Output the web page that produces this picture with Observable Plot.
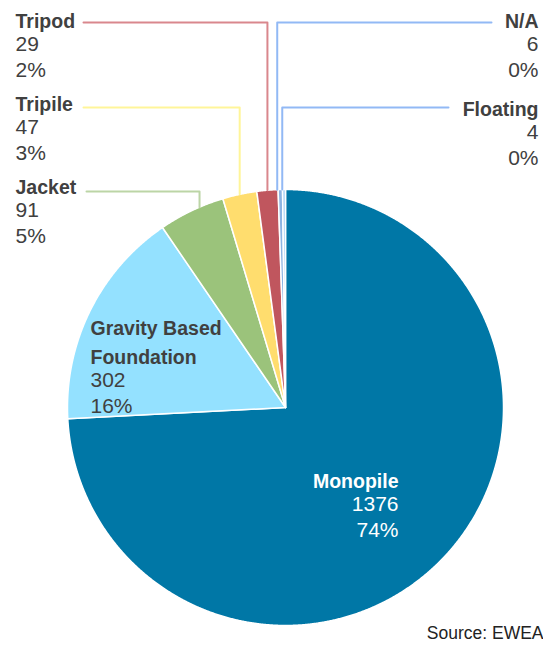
<!DOCTYPE html>
<html>
<head>
<meta charset="utf-8">
<script src="https://cdn.jsdelivr.net/npm/d3@7"></script>
<script src="https://cdn.jsdelivr.net/npm/@observablehq/plot@0.6"></script>
<style>
  html, body { margin: 0; padding: 0; background: #fff; }
  #chart svg { display: block; }
</style>
</head>
<body>
<div id="chart"></div>
<script>
// ---- data ----
const categories = ["Monopile", "Gravity Based Foundation", "Jacket", "Tripile", "Tripod", "N/A", "Floating"];
const counts = [1376, 302, 91, 47, 29, 6, 4];
const percents = ["74%", "16%", "5%", "3%", "2%", "0%", "0%"];
const labelNames = ["Monopile", "Gravity Based\nFoundation", "Jacket", "Tripile", "Tripod", "N/A", "Floating"];
const sourceText = "Source: EWEA";

// ---- styles ----
const sliceColors = ["#0077a6", "#94e1ff", "#9bc37b", "#ffdd6e", "#c0565e", "#8db4e2", "#a9d0f5"];
const leaderColors = [null, null, "#bcd5a6", "#fff599", "#d9878d", "#92b9f5", "#92b9f5"];
const textColor = "#404040";

// ---- layout (units = pixels relative to pie centre, y up) ----
const R = 218;
const labelLayout = [
  {anchor: "end",   x: 113,  y: -80},
  {anchor: "start", x: -195, y: 44},
  {anchor: "start", x: -270, y: 214, lineY: 216, lineX: -199, attach: 0.63},
  {anchor: "start", x: -270, y: 297, lineY: 300, lineX: -202, attach: 0.5},
  {anchor: "start", x: -270, y: 380, lineY: 385, lineX: -202, attach: 0.5},
  {anchor: "end",   x: 253,  y: 380, lineY: 385, lineX: 206, attach: -0.2},
  {anchor: "end",   x: 253,  y: 292, lineY: 300, lineX: 163, attach: -0.1}
];

// ---- build slices ----
const arcs = d3.pie().sort(null).value(d => d)(counts);
const slicePts = [];
arcs.forEach((a, i) => {
  const c = categories[i];
  slicePts.push({c, x: 0, y: 0});
  const n = Math.max(2, Math.ceil((a.endAngle - a.startAngle) / 0.004));
  for (let k = 0; k <= n; k++) {
    const t = a.startAngle + (a.endAngle - a.startAngle) * k / n;
    slicePts.push({c, x: R * Math.sin(t), y: R * Math.cos(t)});
  }
  slicePts.push({c, x: 0, y: 0});
});

// ---- leaders ----
const leaderMarks = [];
arcs.forEach((a, i) => {
  const L = labelLayout[i];
  if (L.lineY === undefined) return;
  const ang = a.startAngle + (a.endAngle - a.startAngle) * L.attach;
  const ex = R * Math.sin(ang), ey = R * Math.cos(ang);
  const pts = [{x: ex, y: ey}, {x: ex, y: L.lineY}, {x: L.lineX, y: L.lineY}];
  leaderMarks.push(Plot.line(pts, {x: "x", y: "y", stroke: leaderColors[i], strokeWidth: 2, curve: "linear"}));
});

// ---- labels ----
const labelMarks = [];
categories.forEach((c, i) => {
  const L = labelLayout[i];
  const d = [{x: L.x, y: L.y, name: labelNames[i], count: String(counts[i]), pct: percents[i]}];
  const fill = i === 0 ? "#ffffff" : textColor;
  labelMarks.push(
    Plot.text(d, {x: "x", y: "y", text: "name", textAnchor: L.anchor, lineAnchor: "bottom",
      fontWeight: "bold", fontSize: 19.5, lineHeight: 1.45, fill}),
    Plot.text(d, {x: "x", y: "y", text: "count", textAnchor: L.anchor, lineAnchor: "bottom",
      fontSize: 21, dy: 23.5, fill}),
    Plot.text(d, {x: "x", y: "y", text: "pct", textAnchor: L.anchor, lineAnchor: "bottom",
      fontSize: 21, dy: 49, fill})
  );
});

const chart = Plot.plot({
  width: 543,
  height: 646,
  margin: 0,
  style: {fontFamily: "'Liberation Sans', Arial, sans-serif", background: "#ffffff", overflow: "visible"},
  x: {domain: [-285, 258], axis: null},
  y: {domain: [-239, 407], axis: null},
  color: {domain: categories, range: sliceColors},
  marks: [
    Plot.line(slicePts, {x: "x", y: "y", z: "c", fill: "c", stroke: "#ffffff", strokeWidth: 1.5, curve: "linear", strokeLinejoin: "round"}),
    ...leaderMarks,
    ...labelMarks,
    Plot.text([sourceText], {frameAnchor: "bottom-right", text: d => d, textAnchor: "end", lineAnchor: "bottom",
      fontSize: 17.5, dx: 0, dy: -8, fill: "#222222"})
  ]
});
document.getElementById("chart").appendChild(chart);
</script>
</body>
</html>
